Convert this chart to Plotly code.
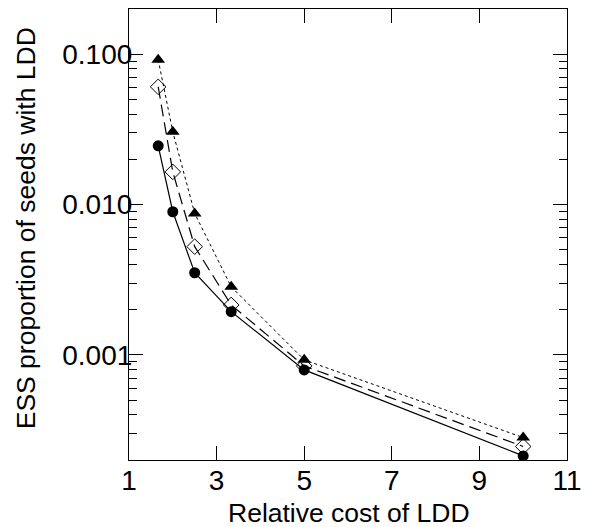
import plotly.graph_objects as go

cost = [5/3, 2, 2.5, 10/3, 5, 10]
circles = [0.0246, 0.00896, 0.00352, 0.00194, 0.000795, 0.000213]
diamonds = [0.0607, 0.0165, 0.00525, 0.00215, 0.000845, 0.000246]
triangles = [0.092, 0.0305, 0.00874, 0.00284, 0.000927, 0.000282]

x_ticks = [1, 3, 5, 7, 9, 11]
y_ticks = [0.001, 0.01, 0.1]
y_tick_labels = ["0.001", "0.010", "0.100"]
y_minor = [m * 10 ** e for e in (-4, -3, -2, -1) for m in range(2, 10) if 0.0002 <= m * 10 ** e <= 0.2]
x_title = "Relative cost of LDD"
y_title = "ESS proportion of seeds with LDD"

fig = go.Figure()
fig.add_trace(go.Scatter(x=cost, y=triangles, mode="lines+markers",
                         line=dict(color="black", width=1, dash="dot"),
                         marker=dict(symbol="triangle-up", size=12, color="black")))
fig.add_trace(go.Scatter(x=cost, y=diamonds, mode="lines+markers",
                         line=dict(color="black", width=1.2, dash="12px,6px"),
                         marker=dict(symbol="diamond-open", size=12, color="black", line=dict(width=1))))
fig.add_trace(go.Scatter(x=cost, y=circles, mode="lines+markers",
                         line=dict(color="black", width=1.2),
                         marker=dict(symbol="circle", size=11, color="black")))

font = "Liberation Sans, Arial, Helvetica, sans-serif"
fig.update_layout(
    width=590, height=527,
    margin=dict(l=129, r=12, t=8, b=67),
    paper_bgcolor="white", plot_bgcolor="white",
    showlegend=False,
    font=dict(family=font, size=26, color="black"),
    xaxis=dict(range=[1, 11], tickvals=x_ticks, ticktext=[str(v) for v in x_ticks],
               ticks="inside", ticklen=14, tickwidth=1, tickcolor="black",
               showline=True, linecolor="black", linewidth=1.2, mirror="ticks",
               showgrid=False, zeroline=False, ticklabeloverflow="allow",
               ticklabelstandoff=-5, tickfont=dict(size=28)),
    yaxis=dict(type="log", range=[-3.699, -0.699], tickvals=y_ticks, ticktext=y_tick_labels,
               ticks="inside", ticklen=14, tickwidth=1, tickcolor="black",
               showline=True, linecolor="black", linewidth=1.2, mirror="ticks",
               showgrid=False, zeroline=False, ticklabelstandoff=-10,
               minor=dict(tickvals=y_minor, ticks="inside", ticklen=8, tickcolor="black", tickwidth=1),
               tickfont=dict(size=28)),
    annotations=[
        dict(text=x_title, xref="paper", yref="paper", x=0.502, y=-0.117,
             xanchor="center", yanchor="middle", showarrow=False, font=dict(size=26.5)),
        dict(text=y_title, xref="paper", yref="paper", x=-0.236, y=0.513, textangle=-90,
             xanchor="center", yanchor="middle", showarrow=False, font=dict(size=26.5)),
    ],
)
fig.write_html("out.html")
